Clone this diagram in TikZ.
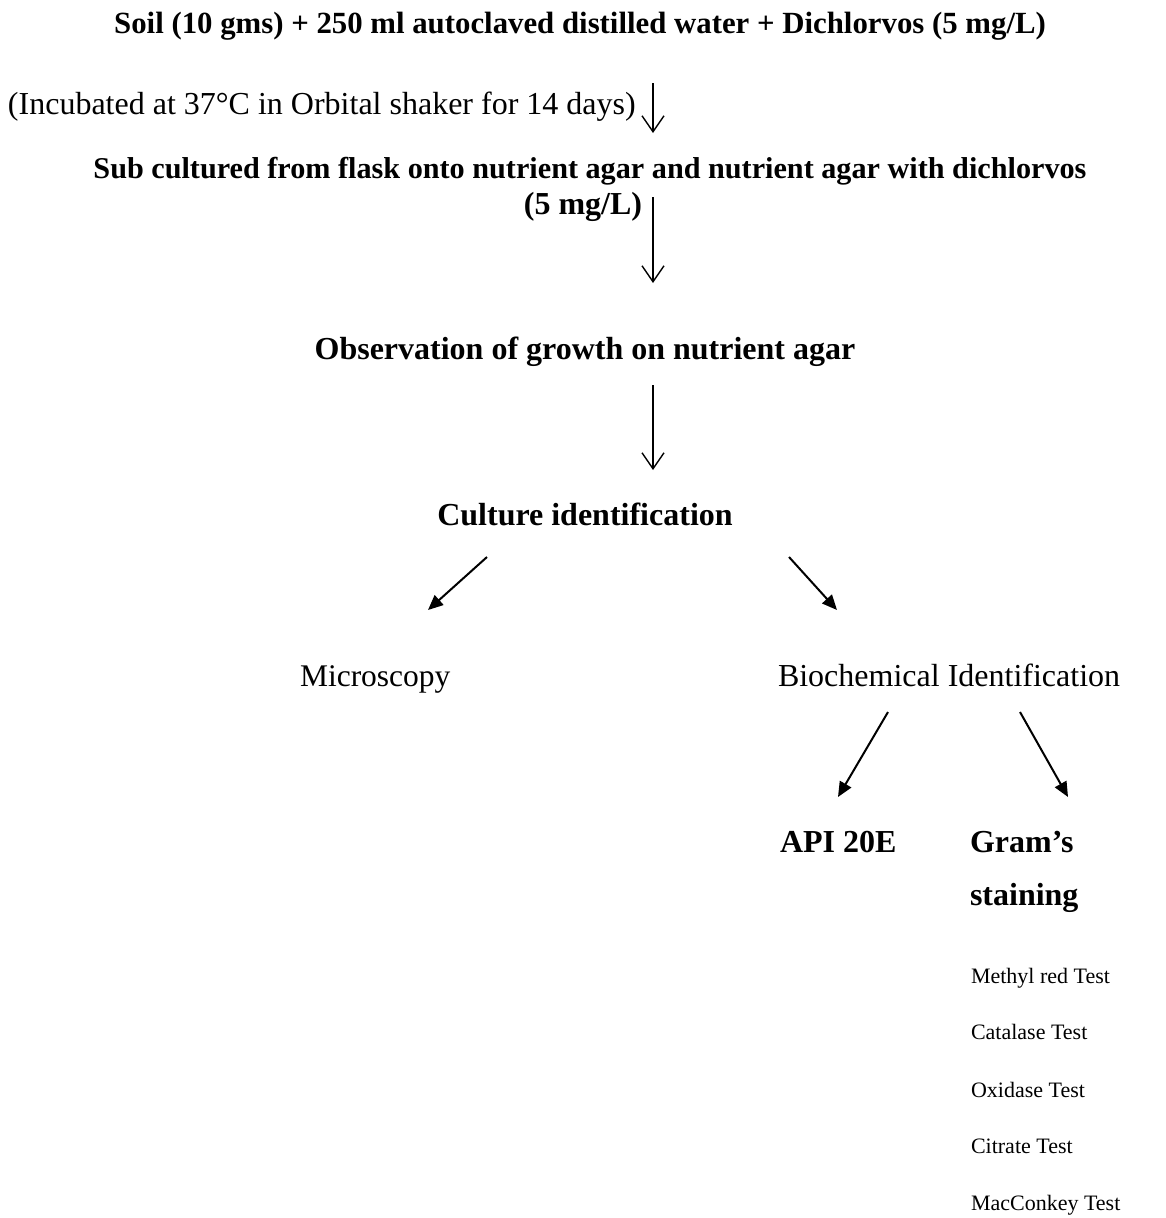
\documentclass[tikz,border=0pt]{standalone}
\usepackage{fontspec}
\setmainfont{Liberation Serif}
\usetikzlibrary{arrows.meta}
\begin{document}
\begin{tikzpicture}[x=1pt,y=-1pt,
  lbl/.style={inner sep=0pt,outer sep=0pt,font=\fontsize{31.5}{36}\selectfont},
  blbl/.style={lbl,font=\fontsize{32}{36}\selectfont\bfseries},
  small/.style={inner sep=0pt,outer sep=0pt,font=\fontsize{22}{26}\selectfont,anchor=base west},
  varrow/.style={line width=1.4pt,-{Straight Barb[length=16pt,width=22pt,line width=1.4pt]}},
  darrow/.style={line width=2pt,-{Triangle[length=15pt,width=13pt]}}]
\useasboundingbox (0,0) rectangle (1165,1218);
\node[blbl,anchor=base,font=\fontsize{30.8}{36}\selectfont\bfseries] (title) at (580,33) {Soil (10 gms) + 250 ml autoclaved distilled water + Dichlorvos (5 mg/L)};
\node[lbl,anchor=base west,font=\fontsize{32}{36}\selectfont] (incub) at (8,114) {(Incubated at 37°C in Orbital shaker for 14 days)};
\node[blbl,anchor=base,font=\fontsize{30.2}{36}\selectfont\bfseries] (sub1) at (590,178) {Sub cultured from flask onto nutrient agar and nutrient agar with dichlorvos};
\node[blbl,anchor=base] (sub2) at (583,214) {(5 mg/L)};
\node[blbl,anchor=base] (obs) at (585,359) {Observation of growth on nutrient agar};
\node[blbl,anchor=base] (cult) at (585,525) {Culture identification};
\node[lbl,anchor=base west] (micro) at (300,686) {Microscopy};
\node[lbl,anchor=base west,font=\fontsize{32}{36}\selectfont] (bio) at (778,686) {Biochemical Identification};
\node[blbl,anchor=base west] (api) at (780,852) {API 20E};
\node[blbl,anchor=base west] (gram) at (970,852) {Gram’s};
\node[blbl,anchor=base west] (stain) at (970,905) {staining};
\node[small] (t1) at (971,983) {Methyl red Test};
\node[small] (t2) at (971,1039) {Catalase Test};
\node[small] (t3) at (971,1097) {Oxidase Test};
\node[small] (t4) at (971,1153) {Citrate Test};
\node[small] (t5) at (971,1210) {MacConkey Test};
% arrow end points
\coordinate (a1s) at (653,83);  \coordinate (a1e) at (653,133);
\coordinate (a2s) at (653,197); \coordinate (a2e) at (653,283);
\coordinate (a3s) at (653,385); \coordinate (a3e) at (653,470);
\coordinate (d1s) at (487,557); \coordinate (d1e) at (428,610);
\coordinate (d2s) at (789,557); \coordinate (d2e) at (837,610);
\coordinate (d3s) at (888,712); \coordinate (d3e) at (838,797);
\coordinate (d4s) at (1020,712); \coordinate (d4e) at (1068,797);
\draw[varrow] (a1s) -- (a1e);
\draw[varrow] (a2s) -- (a2e);
\draw[varrow] (a3s) -- (a3e);
\draw[darrow] (d1s) -- (d1e);
\draw[darrow] (d2s) -- (d2e);
\draw[darrow] (d3s) -- (d3e);
\draw[darrow] (d4s) -- (d4e);
\end{tikzpicture}
\end{document}
